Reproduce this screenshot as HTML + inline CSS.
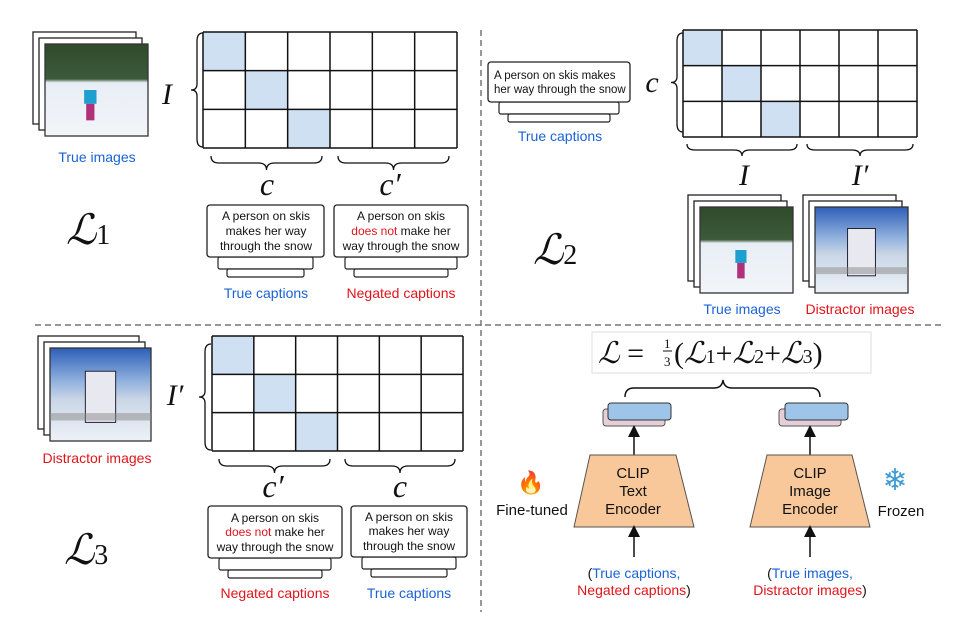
<!DOCTYPE html>
<html><head><meta charset="utf-8"><style>
html,body{margin:0;padding:0;background:#fff;width:971px;height:622px;overflow:hidden}
svg{display:block}
.t{font-family:"Liberation Sans",sans-serif;font-size:12px;fill:#111}
.lb{font-size:14px}
.e{font-size:15px}
.b{fill:#1a62d6}.r{fill:#e0141b}
.m{font-family:"Liberation Serif",serif;font-style:italic;fill:#111}
.L{font-family:"Liberation Serif",serif;font-style:italic;fill:#111;font-size:42px}
.sub{font-family:"Liberation Serif",serif;font-style:normal;font-size:28px}
</style></head><body>
<svg id="s" width="971" height="622" viewBox="0 0 971 622" xmlns="http://www.w3.org/2000/svg">
<defs>
<linearGradient id="ski" x1="0" y1="0" x2="0" y2="1">
<stop offset="0" stop-color="#2e4a2a"/><stop offset="0.38" stop-color="#3d5a3a"/><stop offset="0.42" stop-color="#e8eef5"/><stop offset="1" stop-color="#f2f5f9"/></linearGradient>
<linearGradient id="dis" x1="0" y1="0" x2="0" y2="1">
<stop offset="0" stop-color="#2d5fb8"/><stop offset="0.35" stop-color="#8fb0dd"/><stop offset="0.55" stop-color="#c9d6e6"/><stop offset="1" stop-color="#eef2f7"/></linearGradient>
<marker id="ar" markerWidth="8" markerHeight="8" refX="4" refY="4" orient="auto"><path d="M0,0 L8,4 L0,8 z" fill="#111"/></marker>
</defs>
<g id="g"></g>
<line x1="481" y1="30" x2="481" y2="612" stroke="#777" stroke-width="1.5" stroke-dasharray="6,4"/>
<line x1="35" y1="325" x2="945" y2="325" stroke="#777" stroke-width="1.5" stroke-dasharray="6,4"/>

<text class="t b lb" x="97" y="162" text-anchor="middle">True images</text>
<text class="m" x="167" y="104" font-size="30" text-anchor="middle">I</text>
<text class="m" x="267" y="195" font-size="32" text-anchor="middle">c</text>
<text class="m" x="390" y="195" font-size="32" text-anchor="middle">c′</text>
<text class="t" x="266" y="220" text-anchor="middle">A person on skis</text>
<text class="t" x="266" y="235" text-anchor="middle">makes her way</text>
<text class="t" x="266" y="250" text-anchor="middle">through the snow</text>
<text class="t" x="401" y="220" text-anchor="middle">A person on skis</text>
<text class="t" x="401" y="235" text-anchor="middle"><tspan class="r">does not</tspan> make her</text>
<text class="t" x="401" y="250" text-anchor="middle">way through the snow</text>
<text class="t b lb" x="266" y="298" text-anchor="middle">True captions</text>
<text class="t r lb" x="401" y="298" text-anchor="middle">Negated captions</text>
<text class="L" x="66" y="244">ℒ<tspan class="sub">1</tspan></text>

<text class="t" x="494" y="79" style="font-size:11.5px">A person on skis makes</text>
<text class="t" x="494" y="93" style="font-size:11.5px">her way through the snow</text>
<text class="t b lb" x="560" y="141" text-anchor="middle">True captions</text>
<text class="m" x="652" y="92" font-size="30" text-anchor="middle">c</text>
<text class="m" x="744" y="185" font-size="30" text-anchor="middle">I</text>
<text class="m" x="860" y="185" font-size="30" text-anchor="middle">I′</text>
<text class="t b lb" x="742" y="314" text-anchor="middle">True images</text>
<text class="t r lb" x="860" y="314" text-anchor="middle">Distractor images</text>
<text class="L" x="533" y="264">ℒ<tspan class="sub">2</tspan></text>

<text class="t r lb" x="97" y="463" text-anchor="middle">Distractor images</text>
<text class="m" x="175" y="405" font-size="30" text-anchor="middle">I′</text>
<text class="m" x="273" y="497" font-size="32" text-anchor="middle">c′</text>
<text class="m" x="400" y="497" font-size="32" text-anchor="middle">c</text>
<text class="t" x="275" y="522" text-anchor="middle">A person on skis</text>
<text class="t" x="275" y="536" text-anchor="middle"><tspan class="r">does not</tspan> make her</text>
<text class="t" x="275" y="551" text-anchor="middle">way through the snow</text>
<text class="t" x="409" y="521" text-anchor="middle">A person on skis</text>
<text class="t" x="409" y="535" text-anchor="middle">makes her way</text>
<text class="t" x="409" y="550" text-anchor="middle">through the snow</text>
<text class="t r lb" x="275" y="598" text-anchor="middle">Negated captions</text>
<text class="t b lb" x="409" y="598" text-anchor="middle">True captions</text>
<text class="L" x="64" y="564">ℒ<tspan class="sub">3</tspan></text>

<rect x="592" y="332" width="279" height="41" fill="#fff" stroke="#ddd" stroke-width="1"/>
<text x="598" y="363" font-family="Liberation Serif,serif" font-size="30" fill="#111"><tspan font-style="italic">ℒ</tspan> = </text>
<text x="664" y="348" font-family="Liberation Serif,serif" font-size="13" fill="#111">1</text>
<line x1="663" y1="351" x2="672" y2="351" stroke="#111" stroke-width="1"/>
<text x="664" y="366" font-family="Liberation Serif,serif" font-size="13" fill="#111">3</text>
<text x="674" y="363" font-family="Liberation Serif,serif" font-size="30" fill="#111">(<tspan font-style="italic">ℒ</tspan><tspan font-size="20">1</tspan>+<tspan font-style="italic">ℒ</tspan><tspan font-size="20">2</tspan>+<tspan font-style="italic">ℒ</tspan><tspan font-size="20">3</tspan>)</text>
<path d="M625,397 Q625,388 634,388 L714,388 Q722,388 723,380 Q724,388 732,388 L811,388 Q820,388 820,397" fill="none" stroke="#111" stroke-width="1.5"/>
<rect x="603" y="409" width="62" height="17" rx="3" fill="#e7cfda" stroke="#555"/>
<rect x="608" y="403" width="63" height="17" rx="3" fill="#9fc4ea" stroke="#333"/>
<rect x="779" y="409" width="62" height="17" rx="3" fill="#e7cfda" stroke="#555"/>
<rect x="785" y="403" width="63" height="17" rx="3" fill="#9fc4ea" stroke="#333"/>
<line x1="634" y1="455" x2="634" y2="431" stroke="#111" stroke-width="1.5" marker-end="url(#ar)"/>
<line x1="810" y1="455" x2="810" y2="431" stroke="#111" stroke-width="1.5" marker-end="url(#ar)"/>
<polygon points="590,455 676,455 694,527 574,527" fill="#f8c89a" stroke="#555" stroke-width="1"/>
<polygon points="767,455 852,455 870,527 750,527" fill="#f8c89a" stroke="#555" stroke-width="1"/>
<text x="633" y="478" text-anchor="middle" class="t e">CLIP</text>
<text x="633" y="496" text-anchor="middle" class="t e">Text</text>
<text x="633" y="514" text-anchor="middle" class="t e">Encoder</text>
<text x="810" y="478" text-anchor="middle" class="t e">CLIP</text>
<text x="810" y="496" text-anchor="middle" class="t e">Image</text>
<text x="810" y="514" text-anchor="middle" class="t e">Encoder</text>
<line x1="634" y1="557" x2="634" y2="531" stroke="#111" stroke-width="1.5" marker-end="url(#ar)"/>
<line x1="810" y1="557" x2="810" y2="531" stroke="#111" stroke-width="1.5" marker-end="url(#ar)"/>
<text class="t lb" x="634" y="578" text-anchor="middle">(<tspan class="b">True captions,</tspan></text>
<text class="t lb" x="634" y="595" text-anchor="middle"><tspan class="r">Negated captions</tspan>)</text>
<text class="t lb" x="810" y="578" text-anchor="middle">(<tspan class="b">True images,</tspan></text>
<text class="t lb" x="810" y="595" text-anchor="middle"><tspan class="r">Distractor images</tspan>)</text>
<text x="531" y="490" text-anchor="middle" font-size="22" fill="#f06a1a" font-family="DejaVu Sans,sans-serif">🔥</text>
<text class="t e" x="532" y="515" text-anchor="middle">Fine-tuned</text>
<text x="895" y="490" text-anchor="middle" font-size="30" fill="#3c9ad6" font-family="DejaVu Sans,sans-serif">❄</text>
<text class="t e" x="901" y="516" text-anchor="middle">Frozen</text>
</svg>
<script>
var g=document.getElementById('g'),NS='http://www.w3.org/2000/svg';
function el(t,a){var e=document.createElementNS(NS,t);for(var k in a)e.setAttribute(k,a[k]);g.appendChild(e);return e}
function grid(x0,y0,x1,y1){var cw=(x1-x0)/6,rh=(y1-y0)/3;
 for(var i=0;i<3;i++)el('rect',{x:x0+i*cw,y:y0+i*rh,width:cw,height:rh,fill:'#cfe0f2'});
 for(var i=0;i<=6;i++)el('line',{x1:x0+i*cw,y1:y0,x2:x0+i*cw,y2:y1,stroke:'#111','stroke-width':1.5});
 for(var j=0;j<=3;j++)el('line',{x1:x0,y1:y0+j*rh,x2:x1,y2:y0+j*rh,stroke:'#111','stroke-width':1.5});}
function hb(x1,x2,y,h){var m=(x1+x2)/2,c=y+h/2;
 el('path',{d:'M'+x1+','+y+' Q'+x1+','+c+' '+(x1+8)+','+c+' L'+(m-8)+','+c+' Q'+m+','+c+' '+m+','+(y+h)+' Q'+m+','+c+' '+(m+8)+','+c+' L'+(x2-8)+','+c+' Q'+x2+','+c+' '+x2+','+y,fill:'none',stroke:'#111','stroke-width':1.3});}
function vb(x,y1,y2,w){var m=(y1+y2)/2,c=x-w/2;
 el('path',{d:'M'+x+','+y1+' Q'+c+','+y1+' '+c+','+(y1+8)+' L'+c+','+(m-6)+' Q'+c+','+m+' '+(x-w)+','+m+' Q'+c+','+m+' '+c+','+(m+6)+' L'+c+','+(y2-8)+' Q'+c+','+y2+' '+x+','+y2,fill:'none',stroke:'#111','stroke-width':1.3});}
function cap(x,y,w,h){el('rect',{x:x+11,y:y+h,width:w-22,height:12,fill:'#fff',stroke:'#222','stroke-width':1.2,rx:2});
 el('rect',{x:x+20,y:y+h+12,width:w-40,height:8,fill:'#fff',stroke:'#222','stroke-width':1.2,rx:2});
 el('rect',{x:x,y:y,width:w,height:h,fill:'#fff',stroke:'#222','stroke-width':1.3,rx:3});}
function stack(x,y,w,h,f){el('rect',{x:x,y:y,width:w,height:h,fill:'#fff',stroke:'#222','stroke-width':1.3});
 el('rect',{x:x+6,y:y+6,width:w,height:h,fill:'#fff',stroke:'#222','stroke-width':1.3});
 el('rect',{x:x+12,y:y+12,width:w,height:h,fill:f,stroke:'#333','stroke-width':1.3});
 if(f.indexOf('ski')>0){el('rect',{x:x+12+w*0.38,y:y+12+h*0.5,width:w*0.12,height:h*0.15,fill:'#1d9fd0'});el('rect',{x:x+12+w*0.4,y:y+12+h*0.65,width:w*0.08,height:h*0.18,fill:'#b0307a'});}
 else{el('rect',{x:x+12+w*0.35,y:y+12+h*0.25,width:w*0.3,height:h*0.55,fill:'#e8e8f0',stroke:'#223','stroke-width':1});el('rect',{x:x+12,y:y+12+h*0.7,width:w,height:h*0.08,fill:'#8a8a8a',opacity:0.5});}}
stack(33,32,103,92,'url(#ski)');grid(203,32,457,148);vb(203,33,147,12);hb(211,322,156,14);hb(338,449,156,14);
cap(207,205,117,52);cap(334,205,134,52);
cap(488,62,142,40);grid(683,30,917,137);vb(683,33,132,12);hb(687,797,144,12);hb(807,913,144,12);
stack(688,195,93,86,'url(#ski)');stack(803,195,93,86,'url(#dis)');
stack(38,336,101,93,'url(#dis)');grid(212,336,463,451);vb(211,344,450,12);hb(219,330,459,14);hb(345,455,459,14);
cap(208,506,134,52);cap(351,506,116,51);
</script>
</body></html>
